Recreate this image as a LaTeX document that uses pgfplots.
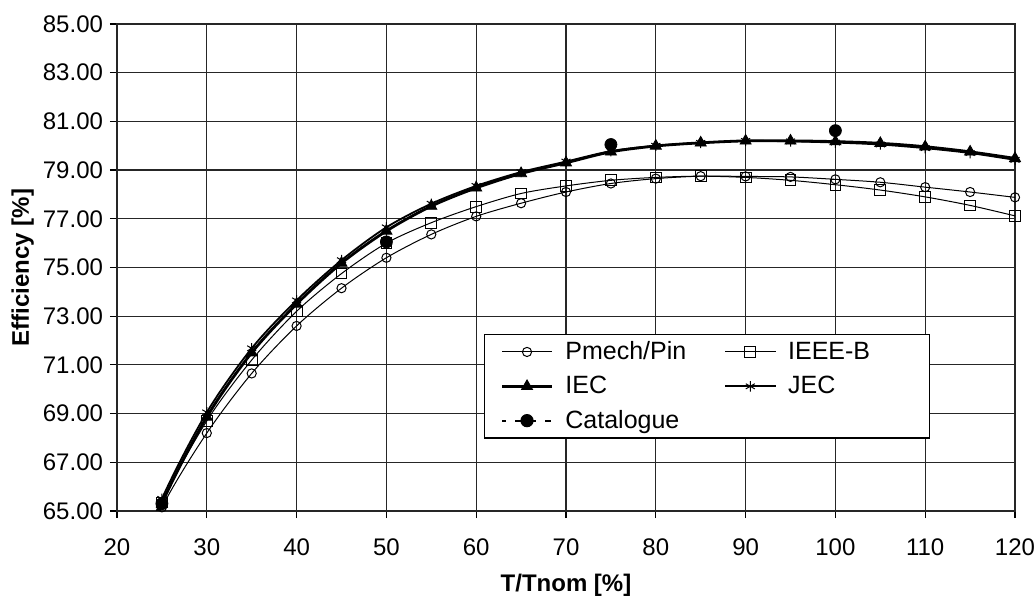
\documentclass[border=0pt]{standalone}
\usepackage{fontspec}
\setmainfont{Liberation Sans}
\usepackage{pgfplots}
\pgfplotsset{compat=1.18}
\usepackage{pgfplotstable}

% efficiency vs load (x=20 lies below the axis and is clipped)
\pgfplotstableread{
x    pmech  ieeeb  iec    jec
20   61.0   60.8   60.5   60.9
25   65.15  65.35  65.30  65.50
30   68.20  68.70  68.86  69.05
35   70.65  71.20  71.50  71.68
40   72.60  73.20  73.50  73.65
45   74.15  74.75  75.18  75.30
50   75.40  76.00  76.50  76.65
55   76.36  76.84  77.52  77.62
60   77.10  77.50  78.27  78.35
65   77.64  78.04  78.86  78.92
70   78.10  78.35  79.30  79.35
75   78.45  78.58  79.75  79.78
80   78.65  78.70  79.99  80.00
85   78.75  78.75  80.12  80.12
90   78.74  78.70  80.20  80.20
95   78.72  78.58  80.20  80.18
100  78.62  78.40  80.17  80.13
105  78.50  78.18  80.10  80.05
110  78.30  77.90  79.96  79.90
115  78.10  77.55  79.75  79.70
120  77.88  77.12  79.48  79.42
}\effdata

\pgfplotstableread{
x    cat
25   65.30
50   76.05
75   80.05
100  80.62
}\catdata

\begin{document}
\begin{tikzpicture}
\useasboundingbox (-58.5bp,-44bp) rectangle (459.5bp,255.5bp);
\begin{axis}[
  scale only axis, width=449bp, height=243.5bp,
  xmin=20, xmax=120, ymin=65, ymax=85,
  xtick={20,30,...,120}, ytick={65,67,...,85},
  grid=major, grid style={black!85, line width=0.6bp},
  axis line style={black!85, line width=0.6bp},
  tick style={black, line width=0.6bp},
  tick align=outside, tick pos=left, major tick length=3.5bp,
  /pgf/number format/assume math mode=true,
  y tick label style={/pgf/number format/fixed, /pgf/number format/fixed zerofill,
    /pgf/number format/precision=2},
  x tick label style={yshift=-7bp},
  ticklabel style={font=\fontsize{12bp}{14bp}\selectfont},
  xlabel={T/Tnom [\%]}, ylabel={Efficiency [\%]},
  label style={font=\bfseries\fontsize{12bp}{14bp}\selectfont},
  x label style={at={(axis description cs:0.5,-0.152)}, anchor=center},
  y label style={at={(axis description cs:-0.105,0.5)}, anchor=center},
  legend columns=2,
  legend cell align=left,
  legend image code/.code={\draw[mark repeat=2,mark phase=2]
    plot coordinates {(0bp,0bp) (12.5bp,0bp) (25bp,0bp)};},
  legend style={
    at={(axis description cs:0.4087,0.3634)}, anchor=north west,
    draw=black, line width=0.6bp, fill=white,
    font=\fontsize{12.5bp}{15bp}\selectfont,
    inner xsep=8bp, inner ysep=1.4bp, row sep=2.8bp,
    /tikz/every odd column/.append style={column sep=4bp},
  },
]
\addplot[black, line width=0.5bp, smooth, mark=o, mark size=2.3bp,
  mark options={solid, line width=0.5bp}] table[x=x, y=pmech] {\effdata};
\addlegendentry{\makebox[77.5bp][l]{Pmech/Pin}}
\addplot[black, line width=0.5bp, smooth, mark=square, mark size=2.7bp,
  mark options={solid, line width=0.5bp}] table[x=x, y=ieeeb] {\effdata};
\addlegendentry{\makebox[60.5bp][l]{IEEE-B}}
\addplot[black, line width=1.4bp, smooth, mark=triangle*, mark size=3.2bp,
  mark options={solid, line width=0.4bp}] table[x=x, y=iec] {\effdata};
\addlegendentry{\makebox[77.5bp][l]{IEC}}
\addplot[black, line width=0.9bp, smooth, mark=asterisk, mark size=2.6bp,
  mark options={solid, line width=0.5bp}] table[x=x, y=jec] {\effdata};
\addlegendentry{\makebox[60.5bp][l]{JEC}}
\addplot[black, only marks, mark=*, mark size=3bp,
  legend image code/.code={
    \draw[black, line width=1bp, dash pattern=on 3bp off 4.5bp, dash phase=1bp] (0bp,0bp) -- (25bp,0bp);
    \fill[black] (12.5bp,0bp) circle (3bp);}]
  table[x=x, y=cat] {\catdata};
\addlegendentry{\makebox[77.5bp][l]{Catalogue}}
\end{axis}
\end{tikzpicture}
\end{document}
